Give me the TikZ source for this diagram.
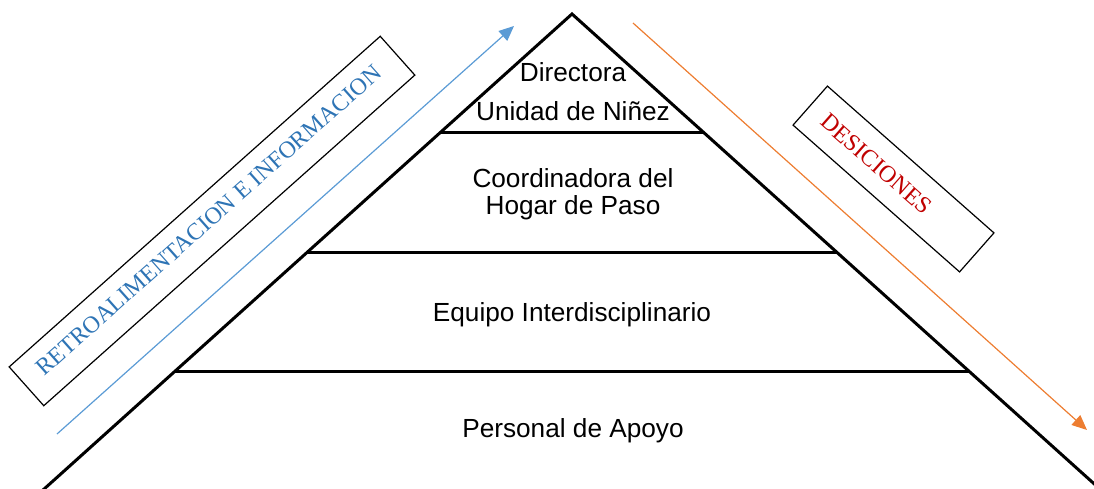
\documentclass[tikz,border=0pt]{standalone}
\usepackage{fontspec}
\setmainfont{Liberation Sans}
\newfontfamily\tagfont{Liberation Serif}
\usepackage{tikz}
\usetikzlibrary{arrows.meta}
\definecolor{retroblue}{HTML}{2E74B5}
\definecolor{arrowblue}{HTML}{5B9BD5}
\definecolor{decired}{HTML}{C00000}
\definecolor{arroworange}{HTML}{ED7D31}

\begin{document}
\begin{tikzpicture}[x=1pt, y=-1pt, pyr/.style = {line width=3pt}, tier/.style = {font=\fontsize{26.2}{27}\selectfont, align=center, inner sep=0pt}, tagbox/.style = {draw, line width=1.2pt, inner sep=0pt, minimum height=52pt, font=\tagfont\fontsize{23.8}{24}\selectfont}, flow/.style = {line width=1.2pt, -{Triangle[length=15pt,width=13pt]}}]
  \useasboundingbox (0,0) rectangle (1094,489);
  \clip (0,0) rectangle (1094,489);
  % piramide
  \coordinate (top) at (572,14);
  \coordinate (bl) at (43,490);
  \coordinate (br) at (1101,490);
  \draw[pyr] (bl) -- (top) -- (br);
  \draw[pyr] (439.7,133) -- (704.3,133);
  \draw[pyr] (307.3,252) -- (836.7,252);
  \draw[pyr] (175,371) -- (969,371);
  \node[tier] (dir) at (573,92) {Directora\\[12pt]Unidad de Niñez};
  \node[tier] (coord) at (573,194) {Coordinadora del\\Hogar de Paso};
  \node[tier, anchor=base] (equipo) at (572,321) {Equipo Interdisciplinario};
  \node[tier, anchor=base] (apoyo) at (573,437) {Personal de Apoyo};
  % flechas
  \coordinate (up0) at (57,434);
  \coordinate (up1) at (514,26);
  \coordinate (down0) at (633,23);
  \coordinate (down1) at (1087,430);
  \draw[flow, arrowblue] (up0) -- (up1);
  \draw[flow, arroworange] (down0) -- (down1);
  \node[tagbox, text=retroblue, rotate=41.7, minimum width=497pt, text height=16pt, text depth=6pt] (retro) at (212,221) {RETROALIMENTACION E INFORMACION\hspace{4pt}\mbox{}};
  \node[tagbox, text=decired, rotate=-41.4, minimum width=222pt] (desi) at (893.5,179) {DESICIONES\hspace{46pt}\mbox{}};
\end{tikzpicture}
\end{document}
